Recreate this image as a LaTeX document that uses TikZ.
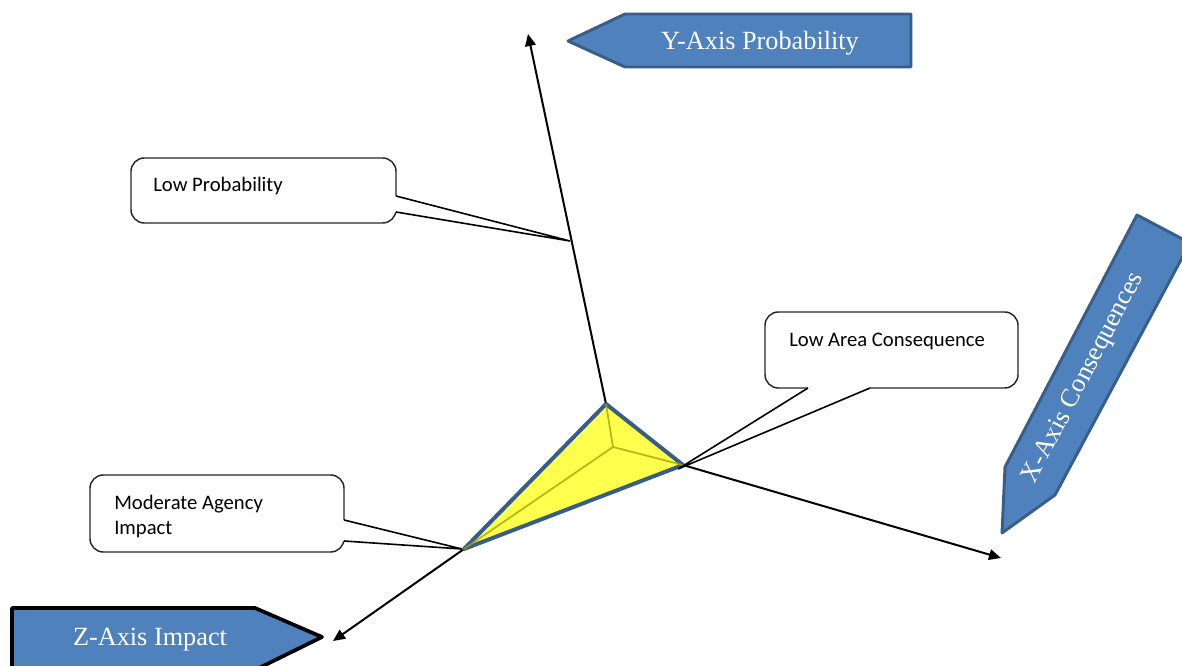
\documentclass[tikz,border=0pt]{standalone}
\usepackage{fontspec}
\setmainfont{Liberation Serif}
\newfontfamily\calloutfont{Carlito}
\usetikzlibrary{arrows.meta}
\definecolor{axisblue}{HTML}{4F81BD}
\definecolor{axisedge}{HTML}{385D8A}
\definecolor{wedgeyellow}{HTML}{FFFF4D}
\definecolor{wedgeolive}{HTML}{A5A500}

\begin{document}
\begin{tikzpicture}[x=0.75pt,y=-0.75pt,
  axisline/.style={line width=1.5pt,-{Triangle[length=9pt,width=8pt]}},
  callout/.style={draw=black!85,line width=1.1pt,fill=white,rounded corners=10},
  pointer/.style={draw=black,line width=1.2pt},
  calltext/.style={font=\calloutfont\fontsize{15.5}{18.75}\selectfont,anchor=west,align=left,inner sep=0pt},
  banner/.style={fill=axisblue,line join=round,line width=2.2pt},
  bannertext/.style={font=\fontsize{19.7}{22}\selectfont,text=white,inner sep=0pt}]
\useasboundingbox (0,0) rectangle (1182,666);
\clip (0,0) rectangle (1182,666);

% corners of the risk wedge and its inner point
\coordinate (T) at (606,404);
\coordinate (R) at (683,465);
\coordinate (L) at (464,549);
\coordinate (C) at (613,447);
% free ends of the three axes
\coordinate (Yend) at (528,34);
\coordinate (Xend) at (1001,558);
\coordinate (Zend) at (333,641);

% axes
\draw[axisline] (T) -- (Yend);
\draw[axisline] (R) -- (Xend);
\draw[axisline] (L) -- (Zend);

% risk wedge
\draw[fill=wedgeyellow,draw=axisedge,line width=3pt,line join=round] (T) -- (R) -- (L) -- cycle;
\draw[wedgeolive,line width=1.3pt,opacity=0.8] (C) -- (T) (C) -- (R) (C) -- (L);

% callout tips
\coordinate (probtip) at (570,241);
\coordinate (areatip) at (678,469);
\coordinate (agencytip) at (462,549);

% callout: low probability
\draw[callout] (131,158) rectangle (396,223);
\fill[white] (392,196) -- (396,196) -- (probtip) -- (396,212) -- (392,212) -- cycle;
\draw[pointer] (396,196) -- (probtip) -- (396,212);
\node[calltext] (probtext) at (153,186) {Low Probability};

% callout: low area consequence
\draw[callout] (765,312) rectangle (1018,388);
\fill[white] (870,384) -- (870,388) -- (areatip) -- (808,388) -- (808,384) -- cycle;
\draw[pointer] (870,388) -- (areatip) -- (808,388);
\node[calltext] (areatext) at (789,341) {Low Area Consequence};

% callout: moderate agency impact
\draw[callout] (90,475) rectangle (344,552);
\fill[white] (340,520) -- (344,520) -- (agencytip) -- (344,541) -- (340,541) -- cycle;
\draw[pointer] (344,520) -- (agencytip) -- (344,541);
\node[calltext] (agencytext) at (114,516) {Moderate Agency\\Impact};

% axis banners
\draw[banner,draw=axisedge] (568,41) -- (625,14) -- (911,14) -- (911,67) -- (625,67) -- cycle;
\node[bannertext] (ylabel) at (760,43) {Y-Axis Probability};

\draw[banner,draw=black,line width=2.8pt] (12,608) -- (255,608) -- (322,637) -- (255,670) -- (12,670) -- cycle;
\node[bannertext] (zlabel) at (150,640) {Z-Axis Impact};

\draw[banner,draw=axisedge] (1002,533) -- (1005,467) -- (1137,215) -- (1190,243) -- (1055,495) -- cycle;
\node[bannertext,rotate=62.4] (xlabel) at (1084,378) {X-Axis Consequences};
\end{tikzpicture}
\end{document}
